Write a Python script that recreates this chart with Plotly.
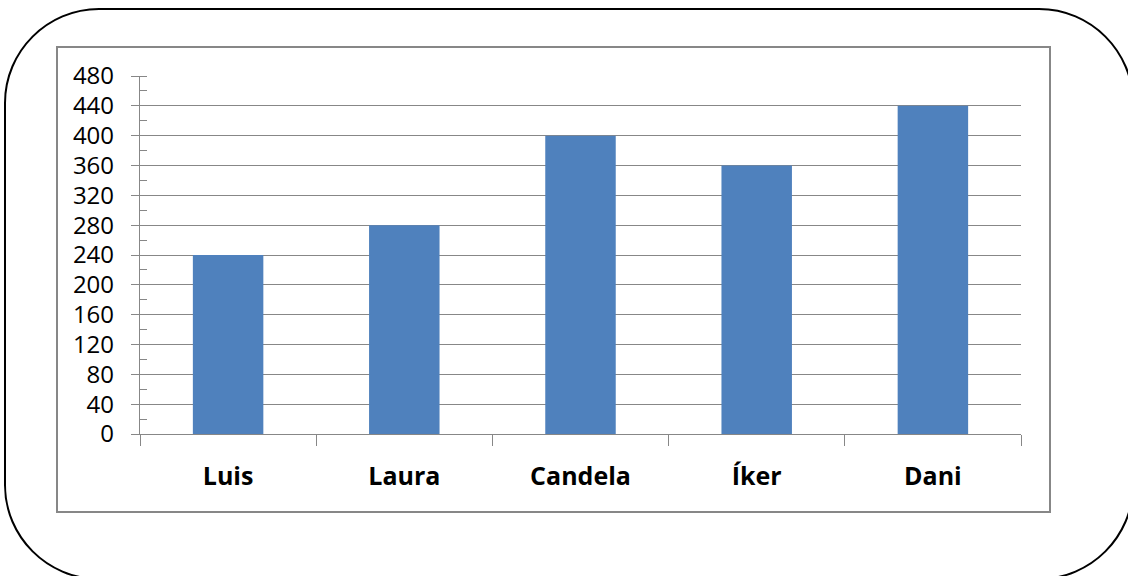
import plotly.graph_objects as go

names = ["Luis", "Laura", "Candela", "Íker", "Dani"]
points = [240, 280, 400, 360, 440]
y_ticks = list(range(0, 481, 40))

W, H = 1128, 576
L, R, T, B = 140, 107, 76, 142
PW, PH = W - L - R, H - T - B


def px(x):
    return (x - L) / PW


def py(y):
    return (H - B - y) / PH


def rounded_rect(x0, y0, x1, y1, r):
    # bezier corners survive the paper transform, arcs would not
    k = 0.45
    p = [
        f"M {px(x0 + r)} {py(y0)}",
        f"L {px(x1 - r)} {py(y0)}",
        f"C {px(x1 - r * k)} {py(y0)} {px(x1)} {py(y0 + r * k)} {px(x1)} {py(y0 + r)}",
        f"L {px(x1)} {py(y1 - r)}",
        f"C {px(x1)} {py(y1 - r * k)} {px(x1 - r * k)} {py(y1)} {px(x1 - r)} {py(y1)}",
        f"L {px(x0 + r)} {py(y1)}",
        f"C {px(x0 + r * k)} {py(y1)} {px(x0)} {py(y1 - r * k)} {px(x0)} {py(y1 - r)}",
        f"L {px(x0)} {py(y0 + r)}",
        f"C {px(x0)} {py(y0 + r * k)} {px(x0 + r * k)} {py(y0)} {px(x0 + r)} {py(y0)} Z",
    ]
    return " ".join(p)


fig = go.Figure(go.Bar(
    x=names,
    y=points,
    marker=dict(color="#4F81BD", line=dict(width=0)),
    width=0.4,
))

grey = "#878787"

fig.add_shape(type="path", xref="paper", yref="paper",
              path=rounded_rect(5, 9, 1133, 579, 94),
              line=dict(color="black", width=2), layer="below")
fig.add_shape(type="rect", xref="paper", yref="paper",
              x0=px(57), x1=px(1050), y0=py(47), y1=py(512),
              line=dict(color=grey, width=2), layer="below")

fig.update_layout(
    width=W, height=H,
    margin=dict(l=L, r=R, t=T, b=B),
    paper_bgcolor="white",
    plot_bgcolor="white",
    font=dict(family="Open Sans, sans-serif", size=24, color="black"),
    showlegend=False,
    bargap=0.6,
    xaxis=dict(
        tickson="boundaries",
        ticks="outside", ticklen=11, tickcolor=grey, tickwidth=1.3,
        showline=True, linecolor=grey, linewidth=1.3,
        showgrid=False,
        tickfont=dict(size=25, family="Open Sans, sans-serif", weight="bold"),
        ticklabelstandoff=20,
    ),
    yaxis=dict(
        range=[0, 480],
        tickvals=y_ticks,
        ticks="outside", ticklen=8, tickcolor=grey, tickwidth=1.3,
        showline=True, linecolor=grey, linewidth=1.3,
        showgrid=True, gridcolor=grey, gridwidth=1.3,
        zeroline=False,
        ticklabelstandoff=12,
        minor=dict(dtick=20, ticks="inside", ticklen=7, tickcolor=grey,
                   tickwidth=1.3, showgrid=False),
    ),
)

fig.write_html("out.html", config={"displayModeBar": False},
               post_script="document.body.style.margin='0';")
